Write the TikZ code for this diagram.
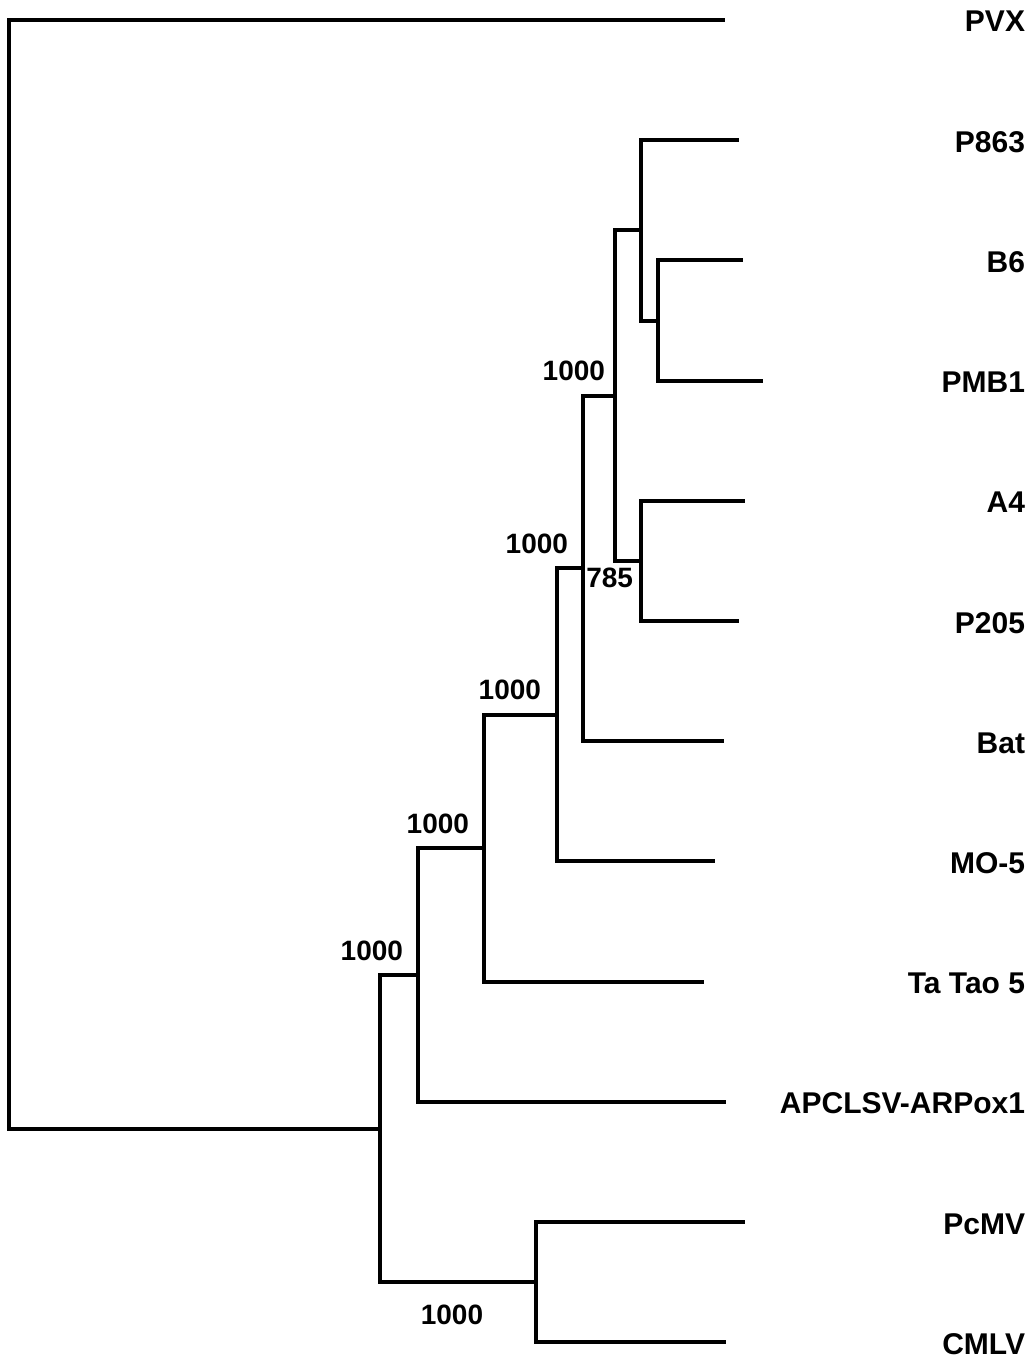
\documentclass[tikz,border=0pt]{standalone}
\usepackage{fontspec}
\setmainfont{Liberation Sans}
\newcommand\leaffont{\fontsize{30}{36}\selectfont\bfseries}
\newcommand\bootfont{\fontsize{28}{32}\selectfont\bfseries}
\begin{document}
\begin{tikzpicture}[x=1pt,y=-1pt,line
				width=4pt,line join=miter,
				leaf/.style={font=\leaffont,anchor=base east,inner sep=0pt},
				boot/.style={font=\bootfont,anchor=base east,inner sep=0pt}]
				\useasboundingbox (0,0) rectangle (1032,1359);
				\def\dy{120.2}
				% leaf tips and names
				\foreach \n/\t/\x [count=\i from 0] in {PVX/PVX/725,P863/P863/739,
				B6/B6/743,PMB1/PMB1/763,A4/A4/745,P205/P205/739,Bat/Bat/724,
				MO5/MO-5/715,TaTao/Ta Tao 5/704,APCLSV/APCLSV-ARPox1/726,
				PcMV/PcMV/745,CMLV/CMLV/726}
				{\coordinate (\n) at (\x,{20+\dy*\i});
				\node[leaf] (l\n) at (1027,{32+\dy*\i}) {\t};}
				% inner nodes
				\coordinate (root) at (9,574.3);
				\coordinate (cAll) at (380,1128.6);
				\coordinate (cPc) at (536,1282.1);
				\coordinate (cApc) at (418,975);
				\coordinate (cTa) at (484,848.3);
				\coordinate (cMo) at (557,714.9);
				\coordinate (cBat) at (583,568.4);
				\coordinate (cPot) at (615,395.6);
				\coordinate (cP863) at (641,230.4);
				\coordinate (cB6) at (658,320.5);
				\coordinate (cA4) at (641,560.9);
				\foreach \p/\a/\b in {root/PVX/cAll,cAll/cApc/cPc,cPc/PcMV/CMLV,
				cApc/cTa/APCLSV,cTa/cMo/TaTao,cMo/cBat/MO5,cBat/cPot/Bat,
				cPot/cP863/cA4,cP863/P863/cB6,cB6/B6/PMB1,cA4/A4/P205}
				{\draw (\p) |- (\a) (\p) |- (\b);}
				% bootstrap values
				\foreach \c/\s in {cPot/8,cBat/13,cMo/14,cTa/13,cApc/13}
				{\node[boot] (b\c) at ([shift={(-\s,-15)}]\c) {1000};}
				\node[boot,anchor=base] (bcPc) at ([shift={(-84,42)}]cPc) {1000};
				\node[boot] (bcA4) at ([shift={(-6,27)}]cA4) {785};
			\end{tikzpicture}
\end{document}
